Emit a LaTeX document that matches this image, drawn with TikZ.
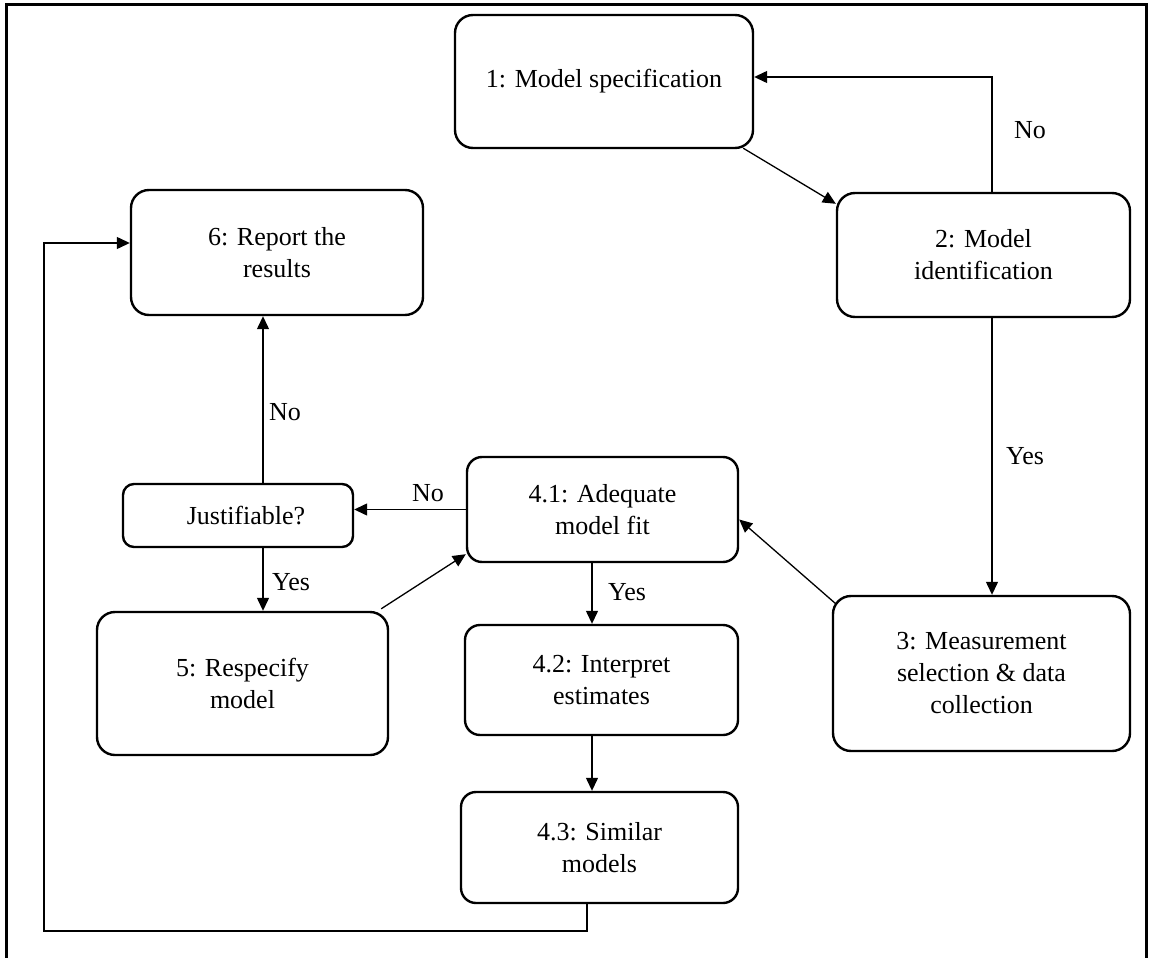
\documentclass[tikz,border=0pt]{standalone}
\usepackage{fontspec}
\setmainfont{Liberation Serif}
\usetikzlibrary{arrows.meta,calc}
\begin{document}
\begin{tikzpicture}[x=1pt,y=-1pt,
  stage/.style={draw,line width=2.4pt,rounded corners=18pt,align=center,inner sep=0pt,
                font=\fontsize{26}{32}\selectfont},
  conn/.style={line width=1.3pt},
  arr/.style={conn,-{Triangle[length=13pt,width=12pt]}},
  lbl/.style={font=\fontsize{26}{32}\selectfont,inner sep=0pt}]
\useasboundingbox (0,0) rectangle (1149,958);

% page frame
\draw[line width=3pt] (6.5,958) -- (6.5,5) -- (1146,5) -- (1146,958);

% stages
\node[stage,minimum width=298pt,minimum height=133pt] (spec) at (604,81.5) {1: Model specification};
\node[stage,minimum width=293pt,minimum height=124pt] (ident) at (983.5,255) {2: Model\\identification};
\node[stage,minimum width=292pt,minimum height=125pt] (report) at (277,252.5) {6: Report the\\results};
\node[stage,rounded corners=11pt,minimum width=230pt,minimum height=63pt] (just) at (238,515.5) {\hspace*{16pt}Justifiable?};
\node[stage,rounded corners=15pt,minimum width=271pt,minimum height=105pt] (fit) at (602.5,509.5) {4.1: Adequate\\model fit};
\node[stage,minimum width=291pt,minimum height=143pt] (resp) at (242.5,683.5) {5: Respecify\\model};
\node[stage,rounded corners=15pt,minimum width=273pt,minimum height=110pt] (interp) at (601.5,680) {4.2: Interpret\\estimates};
\node[stage,minimum width=297pt,minimum height=155pt] (meas) at (981.5,673.5) {3: Measurement\\selection \& data\\collection};
\node[stage,rounded corners=15pt,minimum width=277pt,minimum height=111pt] (similar) at (599.5,847.5) {4.3: Similar\\models};

% connectors
\draw[arr] ($(spec.south east)+(-11,-1)$) -- ($(ident.north west)+(0,12)$);
\draw[arr] ($(ident.north)+(8.5,0)$) |- ($(spec.east)+(0,-4.5)$);
\node[lbl] (noA) at (1030,130) {No};

\draw[arr] ($(ident.south)+(8.5,0)$) -- ($(meas.north)+(10.5,0)$);
\node[lbl] (yesA) at (1025,456) {Yes};

\draw[arr] ($(meas.north west)+(4,9)$) -- ($(fit.east)+(0,10)$);

\draw[arr] (fit.west) -- (fit.west -| just.east);
\node[lbl] (noB) at (428,493) {No};

\draw[arr] ($(just.north)+(25,0)$) -- ($(report.south)+(-14,0)$);
\node[lbl] (noC) at (285,412) {No};

\draw[arr] ($(just.south)+(25,0)$) -- ($(resp.north)+(20.5,0)$);
\node[lbl] (yesB) at (291,582) {Yes};

\draw[arr] ($(resp.north east)+(-8,-2)$) -- ($(fit.south west)+(0,-9)$);

\draw[arr] ($(fit.south)+(-10.5,0)$) -- ($(interp.north)+(-9.5,0)$);
\node[lbl] (yesC) at (627,592) {Yes};

\draw[arr] ($(interp.south)+(-9.5,0)$) -- ($(similar.north)+(-7.5,0)$);

% feedback loop from 4.3 back to reporting
\coordinate (loopL) at (44,931);
\draw[arr] ($(similar.south)+(-12.5,0)$) |- (loopL) |- ($(report.west)+(0,-9.5)$);
\end{tikzpicture}
\end{document}
